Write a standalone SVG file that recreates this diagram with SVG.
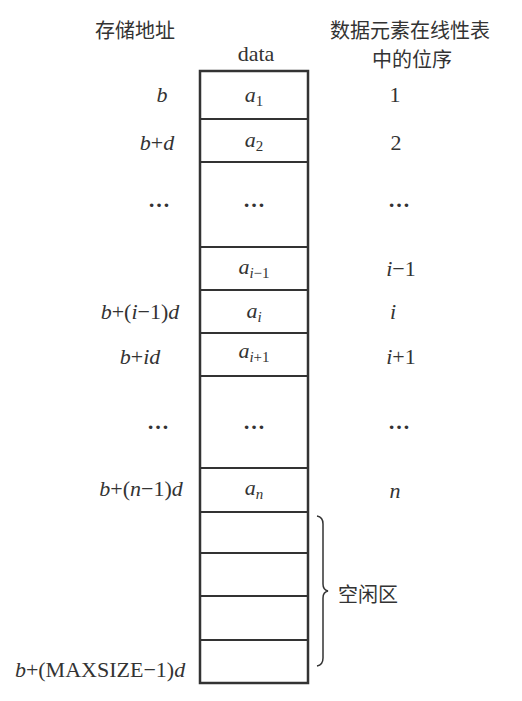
<svg xmlns="http://www.w3.org/2000/svg" width="522" height="701" viewBox="0 0 522 701">
<style>
.t{font-family:"Liberation Serif","Times New Roman",serif;font-size:22px;fill:#333}
.cn{font-family:"Noto Sans CJK SC","Liberation Serif",serif;font-size:20px;fill:#333}
.it{font-style:italic}
.sub{font-size:15px}
.cell{fill:#fff;stroke:#333;stroke-width:2}
.m{text-anchor:middle}
.dots{font-weight:bold}
</style>
<rect width="522" height="701" fill="#fff"/>
<g id="headers">
<text class="cn m" x="135" y="38">存储地址</text>
<text class="t m" x="256" y="61">data</text>
<text class="cn m" x="410" y="38">数据元素在线性表</text>
<text class="cn m" x="412" y="67">中的位序</text>
</g>
<g id="table">
<g id="row1"><rect class="cell" x="200" y="71" width="108" height="48"/><text class="t m" x="254" y="102"><tspan class="it">a</tspan><tspan class="sub" dy="4">1</tspan></text></g>
<g id="row2"><rect class="cell" x="200" y="119" width="108" height="43"/><text class="t m" x="254" y="147"><tspan class="it">a</tspan><tspan class="sub" dy="4">2</tspan></text></g>
<g id="row3"><rect class="cell" x="200" y="162" width="108" height="85"/><text class="t m dots" x="254" y="207">…</text></g>
<g id="row4"><rect class="cell" x="200" y="247" width="108" height="43"/><text class="t m" x="254" y="274"><tspan class="it">a</tspan><tspan class="sub" dy="4"><tspan class="it">i</tspan>−1</tspan></text></g>
<g id="row5"><rect class="cell" x="200" y="290" width="108" height="43"/><text class="t m" x="254" y="318"><tspan class="it">a</tspan><tspan class="sub it" dy="4">i</tspan></text></g>
<g id="row6"><rect class="cell" x="200" y="333" width="108" height="43"/><text class="t m" x="254" y="358"><tspan class="it">a</tspan><tspan class="sub" dy="4"><tspan class="it">i</tspan>+1</tspan></text></g>
<g id="row7"><rect class="cell" x="200" y="376" width="108" height="92"/><text class="t m dots" x="254" y="429">…</text></g>
<g id="row8"><rect class="cell" x="200" y="468" width="108" height="44"/><text class="t m" x="254" y="495"><tspan class="it">a</tspan><tspan class="sub it" dy="4">n</tspan></text></g>
<g id="row9"><rect class="cell" x="200" y="512" width="108" height="41"/></g>
<g id="row10"><rect class="cell" x="200" y="553" width="108" height="43"/></g>
<g id="row11"><rect class="cell" x="200" y="596" width="108" height="44"/></g>
<g id="row12"><rect class="cell" x="200" y="640" width="108" height="43"/></g>
<rect x="200" y="71" width="108" height="612" fill="none" stroke="#333" stroke-width="2.5"/>
</g>
<g id="addresses">
<text class="t m it" x="162" y="102">b</text>
<text class="t m" x="157" y="150"><tspan class="it">b</tspan>+<tspan class="it">d</tspan></text>
<text class="t m dots" x="159" y="207">…</text>
<text class="t m" x="140" y="319"><tspan class="it">b</tspan>+(<tspan class="it">i</tspan>−1)<tspan class="it">d</tspan></text>
<text class="t m" x="140" y="364"><tspan class="it">b</tspan>+<tspan class="it">id</tspan></text>
<text class="t m dots" x="158" y="429">…</text>
<text class="t m" x="141" y="496"><tspan class="it">b</tspan>+(<tspan class="it">n</tspan>−1)<tspan class="it">d</tspan></text>
<text class="t m" x="100" y="677"><tspan class="it">b</tspan>+(MAXSIZE−1)<tspan class="it">d</tspan></text>
</g>
<g id="positions">
<text class="t m" x="395" y="102">1</text>
<text class="t m" x="396" y="150">2</text>
<text class="t m dots" x="399" y="207">…</text>
<text class="t m" x="401" y="276"><tspan class="it">i</tspan>−1</text>
<text class="t m it" x="393" y="319">i</text>
<text class="t m" x="401" y="364"><tspan class="it">i</tspan>+1</text>
<text class="t m dots" x="399" y="429">…</text>
<text class="t m it" x="395" y="498">n</text>
</g>
<g id="connectors">
<path d="M317,516 Q323,517 323,524 L323,584 Q323,590 328,591 Q323,592 323,598 L323,658 Q323,665 317,666" fill="none" stroke="#333" stroke-width="1.5"/>
</g>
<g id="free-label">
<text class="cn" x="338" y="602">空闲区</text>
</g>
</svg>
